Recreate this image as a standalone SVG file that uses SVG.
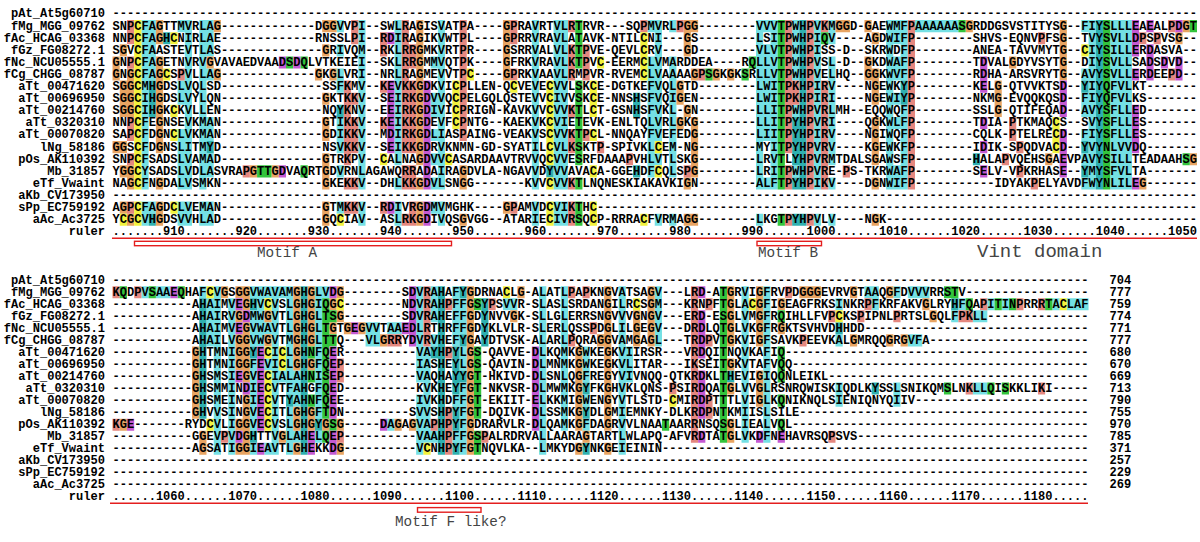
<svg xmlns="http://www.w3.org/2000/svg" width="1200" height="542" viewBox="0 0 1200 542">
<style>
.cy{fill:#74e0e4}.tl{fill:#2fb0b0}.or{fill:#e8a462}.rd{fill:#e4877f}.yl{fill:#f2f23c}.gr{fill:#33c43c}.mg{fill:#c459d2}
text.s{font-family:"Liberation Mono","DejaVu Sans Mono",monospace;font-weight:bold;font-size:12.05px;fill:#000}
text.n{font-family:"Liberation Mono","DejaVu Sans Mono",monospace;font-weight:bold;font-size:12.05px;fill:#000;text-anchor:end}
text.lbl{font-family:"Liberation Mono","DejaVu Sans Mono",monospace;font-size:14.3px;fill:#444}
.rl{stroke:#e41e1e;stroke-width:1.5;fill:none}
.bx{stroke:#e41e1e;stroke-width:1.4;fill:#fff}
</style>
<rect width="1200" height="542" fill="#fff"/>
<g id="colours-block1" transform="translate(112.5 8) scale(7.23 12.1)">
<path class="cy" d="M4 1h1v14h-1zM4 16h1v2h-1zM5 1h1v5h-1zM5 16h1v1h-1zM9 1h1v1h-1zM9 6h1v2h-1zM9 10h1v5h-1zM9 16h1v2h-1zM10 1h1v14h-1zM10 16h1v2h-1zM12 1h1v14h-1zM12 16h1v2h-1zM13 1h1v3h-1zM13 5h1v1h-1zM13 9h1v2h-1zM13 12h1v2h-1zM13 16h1v2h-1zM31 1h1v1h-1zM31 3h1v1h-1zM31 5h1v2h-1zM31 9h1v3h-1zM31 13h1v1h-1zM31 16h1v1h-1zM34 1h1v14h-1zM34 16h1v2h-1zM39 1h1v12h-1zM39 14h1v1h-1zM39 16h1v2h-1zM44 4h1v1h-1zM44 7h1v2h-1zM44 10h1v1h-1zM44 12h1v1h-1zM44 14h1v1h-1zM44 16h1v1h-1zM45 1h1v14h-1zM45 16h1v2h-1zM58 1h1v14h-1zM58 16h1v2h-1zM61 1h2v14h-2zM61 16h2v2h-2zM74 1h1v1h-1zM74 4h1v10h-1zM75 1h1v10h-1zM75 12h1v1h-1zM75 17h1v1h-1zM77 1h1v1h-1zM77 4h1v10h-1zM77 17h1v1h-1zM89 1h1v14h-1zM89 17h1v1h-1zM90 1h1v1h-1zM90 3h1v8h-1zM90 14h1v1h-1zM91 1h1v14h-1zM94 1h1v5h-1zM94 8h1v1h-1zM94 13h1v1h-1zM97 1h1v14h-1zM97 17h1v1h-1zM99 1h1v2h-1zM99 4h1v9h-1zM99 14h1v1h-1zM99 17h1v1h-1zM107 1h1v14h-1zM108 1h1v2h-1zM108 4h1v2h-1zM108 7h1v1h-1zM108 9h1v1h-1zM108 13h1v2h-1zM109 1h1v5h-1zM109 8h1v7h-1zM111 1h6v1h-6zM134 1h1v1h-1zM134 5h1v1h-1zM134 7h1v2h-1zM134 10h1v1h-1zM134 12h1v1h-1zM134 14h1v1h-1zM135 1h1v14h-1zM138 1h3v14h-3z"/>
<path class="tl" d="M5 6h1v3h-1zM5 17h1v1h-1zM7 2h1v1h-1zM13 11h1v1h-1zM31 8h1v1h-1zM60 13h1v1h-1zM72 7h1v2h-1zM72 13h1v1h-1zM94 9h1v4h-1zM94 14h1v1h-1zM94 17h1v1h-1zM95 1h1v14h-1zM95 17h1v1h-1zM109 6h1v2h-1zM119 12h1v1h-1zM134 6h1v1h-1zM134 11h1v1h-1zM134 13h1v1h-1zM136 1h1v14h-1z"/>
<path class="or" d="M0 4h1v2h-1zM0 11h1v1h-1zM1 3h1v1h-1zM1 6h1v3h-1zM1 11h1v1h-1zM1 13h1v1h-1zM1 16h1v1h-1zM2 5h1v4h-1zM2 13h1v2h-1zM2 17h1v1h-1zM6 1h1v2h-1zM6 4h1v8h-1zM6 14h1v1h-1zM6 16h1v2h-1zM13 4h1v1h-1zM14 1h1v1h-1zM14 5h1v1h-1zM19 13h1v1h-1zM22 13h1v1h-1zM28 5h1v1h-1zM29 1h1v1h-1zM29 3h1v1h-1zM29 7h1v1h-1zM29 9h1v2h-1zM29 12h1v3h-1zM29 16h1v2h-1zM30 1h1v1h-1zM30 5h1v1h-1zM42 1h1v12h-1zM42 14h1v1h-1zM42 16h1v2h-1zM48 13h1v2h-1zM48 17h1v1h-1zM54 1h1v5h-1zM54 16h1v1h-1zM78 6h1v2h-1zM78 9h1v1h-1zM79 1h1v3h-1zM79 8h1v1h-1zM79 14h1v1h-1zM79 17h1v1h-1zM80 1h1v1h-1zM80 5h1v1h-1zM80 9h1v5h-1zM80 17h1v1h-1zM83 5h1v1h-1zM85 5h1v1h-1zM100 1h2v1h-2zM104 1h1v1h-1zM104 4h1v2h-1zM105 2h1v1h-1zM105 5h1v3h-1zM105 9h1v4h-1zM105 14h1v1h-1zM105 17h1v1h-1zM118 1h1v1h-1zM122 6h1v3h-1zM124 4h1v1h-1zM129 12h1v1h-1zM131 1h1v5h-1zM142 14h1v1h-1zM147 2h1v1h-1zM148 1h1v1h-1zM149 12h1v1h-1z"/>
<path class="rd" d="M2 1h1v2h-1zM2 4h1v1h-1zM2 9h1v2h-1zM2 12h1v1h-1zM2 16h1v1h-1zM9 5h1v1h-1zM18 13h1v1h-1zM32 6h1v7h-1zM32 14h1v1h-1zM32 16h1v1h-1zM33 1h1v2h-1zM33 7h1v1h-1zM33 9h1v3h-1zM33 14h1v1h-1zM33 16h1v1h-1zM37 2h1v2h-1zM37 6h1v1h-1zM37 9h1v1h-1zM37 16h1v1h-1zM40 1h1v11h-1zM40 13h1v2h-1zM40 17h1v1h-1zM41 3h1v2h-1zM41 6h1v6h-1zM41 13h1v2h-1zM41 16h1v2h-1zM48 1h1v10h-1zM55 1h1v2h-1zM55 5h1v1h-1zM55 16h1v1h-1zM63 1h1v1h-1zM63 3h1v3h-1zM63 8h1v1h-1zM63 10h1v2h-1zM63 14h1v1h-1zM63 16h1v2h-1zM65 3h1v3h-1zM65 10h1v1h-1zM67 11h1v1h-1zM71 12h1v1h-1zM73 1h1v1h-1zM78 1h1v1h-1zM79 13h1v1h-1zM81 5h1v1h-1zM93 1h1v11h-1zM93 13h1v2h-1zM93 17h1v1h-1zM94 6h1v2h-1zM96 1h1v14h-1zM96 17h1v1h-1zM98 1h1v1h-1zM98 6h1v9h-1zM101 13h1v1h-1zM110 1h1v14h-1zM123 12h1v1h-1zM124 9h1v2h-1zM125 11h1v1h-1zM125 13h1v1h-1zM127 14h1v1h-1zM128 2h1v1h-1zM142 2h1v1h-1zM144 2h1v1h-1zM146 1h1v1h-1zM146 5h1v1h-1z"/>
<path class="yl" d="M3 1h1v14h-1zM3 16h1v2h-1zM1 17h1v1h-1zM7 5h1v1h-1zM8 2h1v1h-1zM8 8h1v1h-1zM8 10h1v1h-1zM8 16h1v1h-1zM31 17h1v1h-1zM37 12h1v1h-1zM46 12h1v1h-1zM47 6h1v4h-1zM49 5h1v1h-1zM55 6h1v1h-1zM60 6h1v7h-1zM60 14h1v1h-1zM60 16h1v2h-1zM66 6h1v3h-1zM66 10h1v1h-1zM66 13h1v1h-1zM66 16h1v2h-1zM67 4h1v1h-1zM73 2h1v4h-1zM73 17h1v1h-1zM75 11h1v1h-1zM75 13h1v1h-1zM130 9h1v3h-1zM134 3h1v1h-1z"/>
<path class="gr" d="M24 4h1v1h-1zM26 4h1v1h-1zM20 13h2v1h-2zM26 13h1v1h-1zM64 1h1v4h-1zM64 6h1v7h-1zM64 14h1v1h-1zM64 16h1v2h-1zM82 5h1v1h-1zM87 5h1v1h-1zM88 4h1v1h-1zM92 1h1v14h-1zM92 17h1v1h-1zM98 2h1v1h-1zM117 1h1v1h-1zM137 1h1v14h-1zM148 12h1v1h-1zM149 1h1v1h-1z"/>
<path class="mg" d="M23 4h1v1h-1zM25 4h1v1h-1zM23 13h1v1h-1zM38 2h1v1h-1zM38 6h1v6h-1zM38 16h1v1h-1zM43 6h1v9h-1zM43 16h1v2h-1zM120 4h1v3h-1zM120 9h1v1h-1zM120 11h1v1h-1zM120 13h1v1h-1zM131 6h1v3h-1zM131 10h1v4h-1zM141 1h1v3h-1zM141 5h1v1h-1zM141 8h1v4h-1zM141 14h1v1h-1zM143 1h1v1h-1zM143 3h1v3h-1zM145 4h1v1h-1zM147 1h1v1h-1zM147 4h1v2h-1z"/>
</g>
<g id="colours-block2" transform="translate(112.5 274.1) scale(7.23 12.05)">
<path class="cy" d="M4 1h1v1h-1zM6 1h2v1h-2zM12 1h1v1h-1zM13 2h1v4h-1zM14 1h1v14h-1zM16 2h1v13h-1zM19 1h1v1h-1zM19 3h1v3h-1zM19 7h1v6h-1zM19 14h1v1h-1zM20 1h1v5h-1zM21 1h1v1h-1zM21 4h1v1h-1zM21 7h1v1h-1zM21 14h1v1h-1zM22 1h1v14h-1zM23 1h1v1h-1zM23 8h1v1h-1zM24 1h1v9h-1zM24 11h1v4h-1zM25 8h1v3h-1zM25 13h1v1h-1zM28 1h1v11h-1zM28 13h1v1h-1zM29 1h1v1h-1zM35 4h2v2h-2zM38 4h2v1h-2zM38 12h1v1h-1zM42 1h1v8h-1zM42 10h1v5h-1zM43 6h1v8h-1zM44 1h1v3h-1zM44 5h1v1h-1zM44 13h1v1h-1zM47 1h1v5h-1zM47 10h1v1h-1zM47 13h1v1h-1zM48 2h1v3h-1zM48 6h1v2h-1zM48 9h1v6h-1zM54 2h2v1h-2zM59 1h1v14h-1zM62 1h1v12h-1zM65 6h1v3h-1zM65 10h1v1h-1zM65 12h1v1h-1zM70 1h1v14h-1zM71 6h1v3h-1zM75 1h1v5h-1zM87 1h1v13h-1zM90 1h1v13h-1zM100 2h1v1h-1zM100 5h1v1h-1zM100 9h1v2h-1zM104 1h2v1h-2zM105 2h1v1h-1zM108 1h1v1h-1zM108 9h1v2h-1zM110 1h3v1h-3zM110 5h2v1h-2zM116 3h1v1h-1zM117 2h1v1h-1zM119 3h2v1h-2zM119 9h2v1h-2zM121 2h1v1h-1zM123 2h1v1h-1zM130 2h1v1h-1zM132 2h3v1h-3z"/>
<path class="tl" d="M12 2h1v10h-1zM19 2h1v1h-1zM19 6h1v1h-1zM19 13h1v1h-1zM24 10h1v1h-1zM26 1h1v14h-1zM28 12h1v1h-1zM44 6h1v1h-1zM45 1h1v14h-1zM47 6h1v4h-1zM47 11h1v2h-1zM47 14h1v1h-1zM48 1h1v1h-1zM48 5h1v1h-1zM48 8h1v1h-1zM51 2h1v4h-1zM65 9h1v1h-1zM65 11h1v1h-1zM65 14h1v1h-1zM85 8h1v1h-1zM100 4h1v1h-1zM105 9h1v1h-1zM116 2h1v1h-1z"/>
<path class="or" d="M1 12h1v1h-1zM11 6h1v6h-1zM12 13h1v2h-1zM15 1h1v1h-1zM17 1h1v1h-1zM17 3h1v1h-1zM17 5h1v3h-1zM17 12h1v1h-1zM17 14h1v1h-1zM18 1h1v2h-1zM18 4h1v5h-1zM18 10h1v5h-1zM21 3h1v1h-1zM21 5h1v1h-1zM23 13h1v1h-1zM25 1h1v7h-1zM25 11h1v2h-1zM25 14h1v1h-1zM27 1h1v5h-1zM27 7h1v1h-1zM27 11h1v2h-1zM29 12h1v1h-1zM30 2h1v1h-1zM30 4h1v1h-1zM31 1h1v1h-1zM31 3h1v1h-1zM31 12h1v1h-1zM31 14h1v1h-1zM32 4h1v1h-1zM34 4h1v1h-1zM37 5h1v1h-1zM39 12h1v1h-1zM41 12h1v1h-1zM49 1h1v14h-1zM55 3h1v1h-1zM56 1h1v1h-1zM64 6h1v7h-1zM64 14h1v1h-1zM65 13h1v1h-1zM67 5h1v1h-1zM68 1h1v12h-1zM68 14h1v1h-1zM72 3h1v3h-1zM74 1h1v5h-1zM85 1h1v5h-1zM85 7h1v1h-1zM85 9h1v1h-1zM85 12h1v2h-1zM89 1h1v5h-1zM89 8h1v3h-1zM92 2h1v1h-1zM92 4h1v1h-1zM95 1h3v1h-3zM102 1h1v1h-1zM102 5h1v1h-1zM107 1h1v1h-1zM107 5h1v1h-1zM109 5h1v1h-1zM112 2h1v1h-1zM113 3h1v1h-1z"/>
<path class="rd" d="M0 1h1v1h-1zM0 12h1v1h-1zM3 1h1v1h-1zM15 13h1v1h-1zM31 7h1v2h-1zM31 13h1v1h-1zM38 5h2v1h-2zM43 1h1v5h-1zM44 12h1v1h-1zM46 2h1v1h-1zM46 6h1v1h-1zM46 11h1v4h-1zM51 13h1v1h-1zM52 2h1v1h-1zM63 1h1v1h-1zM63 5h1v1h-1zM65 1h1v1h-1zM66 4h1v1h-1zM77 9h1v1h-1zM80 1h1v13h-1zM82 2h1v1h-1zM82 5h1v1h-1zM82 10h1v2h-1zM93 1h1v1h-1zM95 5h1v1h-1zM99 3h1v1h-1zM99 13h1v1h-1zM103 3h1v1h-1zM104 2h1v1h-1zM108 3h1v1h-1zM117 3h2v1h-2zM118 9h1v1h-1zM120 2h1v1h-1zM125 2h1v1h-1zM128 2h1v1h-1zM128 9h1v1h-1z"/>
<path class="yl" d="M13 1h1v1h-1zM13 12h1v1h-1zM21 2h1v1h-1zM21 6h1v1h-1zM21 8h1v5h-1zM23 6h1v2h-1zM31 2h1v1h-1zM43 14h1v1h-1zM54 1h1v1h-1zM72 2h1v1h-1zM88 2h1v1h-1zM77 10h1v1h-1zM100 3h1v1h-1zM131 2h1v1h-1z"/>
<path class="gr" d="M1 1h1v1h-1zM5 1h1v1h-1zM9 1h1v1h-1zM29 2h1v10h-1zM29 13h1v1h-1zM30 3h1v1h-1zM30 5h1v1h-1zM30 12h1v1h-1zM27 6h1v1h-1zM27 8h1v1h-1zM27 10h1v1h-1zM50 2h1v1h-1zM50 6h1v6h-1zM50 13h1v2h-1zM76 12h1v1h-1zM84 1h1v13h-1zM92 3h1v1h-1zM92 6h1v3h-1zM92 10h1v1h-1zM92 12h1v1h-1zM115 1h2v1h-2zM118 2h1v1h-1zM122 2h1v1h-1zM124 2h1v1h-1zM129 2h1v1h-1zM115 9h1v1h-1zM121 9h1v1h-1zM123 9h1v1h-1z"/>
<path class="mg" d="M2 12h1v1h-1zM8 1h1v1h-1zM17 2h1v1h-1zM17 4h1v1h-1zM17 8h1v1h-1zM17 13h1v1h-1zM18 3h1v1h-1zM18 9h1v1h-1zM20 6h1v7h-1zM20 14h1v1h-1zM27 13h1v2h-1zM30 1h1v1h-1zM30 6h1v6h-1zM30 13h1v2h-1zM33 4h1v1h-1zM37 12h1v1h-1zM40 4h1v1h-1zM41 1h1v5h-1zM58 6h1v7h-1zM81 1h1v1h-1zM81 3h1v4h-1zM81 8h1v4h-1zM81 13h1v1h-1zM89 13h1v1h-1zM92 13h1v1h-1z"/>
</g>
<g id="names-block1">
<text class="n" x="105" y="17.4">pAt_At5g60710</text>
<text class="n" x="105" y="29.5">fMg_MGG_09762</text>
<text class="n" x="105" y="41.6">fAc_HCAG_03368</text>
<text class="n" x="105" y="53.7">fGz_FG08272.1</text>
<text class="n" x="105" y="65.8">fNc_NCU05555.1</text>
<text class="n" x="105" y="77.9">fCg_CHGG_08787</text>
<text class="n" x="105" y="90">aTt_00471620</text>
<text class="n" x="105" y="102.1">aTt_00696950</text>
<text class="n" x="105" y="114.2">aTt_00214760</text>
<text class="n" x="105" y="126.3">aTt_0320310</text>
<text class="n" x="105" y="138.4">aTt_00070820</text>
<text class="n" x="105" y="150.5">lNg_58186</text>
<text class="n" x="105" y="162.6">pOs_AK110392</text>
<text class="n" x="105" y="174.7">Mb_31857</text>
<text class="n" x="105" y="186.8">eTf_Vwaint</text>
<text class="n" x="105" y="198.9">aKb_CV173950</text>
<text class="n" x="105" y="211">sPp_EC759192</text>
<text class="n" x="105" y="223.1">aAc_Ac3725</text>
<text class="n" x="105" y="235.2">ruler</text>
</g>
<g id="sequences-block1">
<text class="s" x="112.5" y="17.4" textLength="1084.5" lengthAdjust="spacing">------------------------------------------------------------------------------------------------------------------------------------------------------</text>
<text class="s" x="112.5" y="29.5" textLength="1084.5" lengthAdjust="spacing">SNPCFAGTTMVRLAG-------------DGGVVPI--SWLRAGISVATPA----GPRAVRTVLRTRVR---SQPMVRLPGG--------VVVTPWHPVKMGGD-GAEWMFPAAAAAASGRDDGSVSTITYSG--FIYSLLLEAEALPDGT</text>
<text class="s" x="112.5" y="41.6" textLength="1084.5" lengthAdjust="spacing">NNPCFAGHCNIRLAE-------------RNSSLPI--RDIRAGIKVWTPL----GPRRVRAVLATAVK-NTILCNI---GS--------LSITPWHPIQV----AGDWIFP--------SHVS-EQNVPFSG--TVYSVLLDPSPVSG--</text>
<text class="s" x="112.5" y="53.7" textLength="1084.5" lengthAdjust="spacing">SGVCFAASTEVTLAS--------------GRIVQM--RKLRRGMKVRTPR----GSRRVALVLKTPVE-QEVLCRV---GD--------VLVTPWHPISS-D--SKRWDFP--------ANEA-TAVVMYTG--CIYSILLERDASVA--</text>
<text class="s" x="112.5" y="65.8" textLength="1084.5" lengthAdjust="spacing">GNPCFAGETNVRVGVAVAEDVAADSDQLVTKEIEI--SKLRRGMMVQTPK----GFRKVRAVLKTPVC-EERMCLVMARDDEA----RQLLVTPWHPVSL-D--GKDWAFP--------TDVALGDYVSYTG--DIYSVLLSADSDVD--</text>
<text class="s" x="112.5" y="77.9" textLength="1084.5" lengthAdjust="spacing">GNGCFAGCSPVLLAG-------------GKGLVRI--NRLRAGMEVVTPC----GPRKVAAVLRMPVR-RVEMCLVAAAAGPSGKGKSRLLVTPWHPVELHQ--GGKWVFP--------RDHA-ARSVRYTG--AVYSVLLERDEEPD--</text>
<text class="s" x="112.5" y="90" textLength="1084.5" lengthAdjust="spacing">SGGCMHGDSLVQLSD--------------SSFKMV--KEVKKGDKVICPLLEN-QCVEVECVVLSKCE-DGTKEFVQLGTD--------LWITPKHPIRV----NGEWKYP--------KELG-QTVVKTSD--YIYQFVLKT-------</text>
<text class="s" x="112.5" y="102.1" textLength="1084.5" lengthAdjust="spacing">SGGCIHGDSLVYLQN--------------GKTKKV--SEIRKGDVVQCPELGQLQSTEVVCIVVSKCE-NNSHSFVQIGEN--------LWITPKHPIRI----NGEWIYP--------NKMG-EVQQKQSD--FIYQFVLKS-------</text>
<text class="s" x="112.5" y="114.2" textLength="1084.5" lengthAdjust="spacing">SGGCIHGKCKVLLEN--------------NQYKNV--EEIRKGDIVICPRIGN-KAVKVVCVVKTLCT-GSNHSFVKL-GN--------LLITPWHPVRLMH--EQQWQFP--------SSLG-QTIFEQAD--AVYSFLLED-------</text>
<text class="s" x="112.5" y="126.3" textLength="1084.5" lengthAdjust="spacing">NNPCFEGNSEVKMAN--------------GTIKKV--KEIKKGDEVFCPNTG--KAEKVKCVIETEVK-ENLTQLVRLGKG--------LLITPYHPVRI----QGKWLFP--------TDIA-PTKMAQCS--SVYSFLLES-------</text>
<text class="s" x="112.5" y="138.4" textLength="1084.5" lengthAdjust="spacing">SAPCFDGNCLVKMAN--------------GDIKKV--MDIRKGDLIASPAING-VEAKVSCVVKTPCL-NNQAYFVEFEDG--------LIITPYHPIRV----NGIWQFP--------CQLK-PTELRECD--FIYSFLLES-------</text>
<text class="s" x="112.5" y="150.5" textLength="1084.5" lengthAdjust="spacing">GGSCFDGNSLITMYD--------------NSVKKV--SEIKKGDRVKNMN-GD-SYATILCVLKSKTP-SPIVKLCEM-NG--------MYITPYHPVRV----KGEWKFP--------IDIK-SPQDVACD--YVYNLVVDQ-------</text>
<text class="s" x="112.5" y="162.6" textLength="1084.5" lengthAdjust="spacing">SNPCFSADSLVAMAD--------------GTRKPV--CALNAGDVVCASARDAAVTRVVQCVVESRFDAAAPVHLVTLSKG--------LRVTLYHPVRMTDALSGAWSFP--------HALAPVQEHSGAEVPAVYSILLTEADAAHSG</text>
<text class="s" x="112.5" y="174.7" textLength="1084.5" lengthAdjust="spacing">YGGCYSADSLVDLASVRAPGTTGDVAQRTGDVRNLAGAWQRRADAIRAGDVLA-NGAVVDYVVAVACA-GGEHDFCQLSPG--------LRITPWHPVRE-PS-TKRWAFP--------SELV-VPKRHASE--YMYSFVLTA-------</text>
<text class="s" x="112.5" y="186.8" textLength="1084.5" lengthAdjust="spacing">NAGCFNGDALVSMKN--------------GKEKKV--DHLKKGDVLSNGG-------KVVCVVKTLNQNESKIAKAVKIGN--------ALFTPYHPIKV----DGNWIFP-----------IDYAKPELYAVDFWYNLILEG-------</text>
<text class="s" x="112.5" y="198.9" textLength="1084.5" lengthAdjust="spacing">------------------------------------------------------------------------------------------------------------------------------------------------------</text>
<text class="s" x="112.5" y="211" textLength="1084.5" lengthAdjust="spacing">AGPCFAGDCLVEMAN--------------GTMKKV--RDIVRGDMVMGHK----GPAMVDCVIKTHC-----------------------------------------------------------------------------------</text>
<text class="s" x="112.5" y="223.1" textLength="1084.5" lengthAdjust="spacing">YCGCVHGDSVVHLAD--------------GQCIAV--ASLRKGDIVQSGVGG--ATARIECIVRSQCP-RRRACFVRMAGG--------LKGTPYHPVLV----NGK-------------------------------------------</text>
<text class="s" x="112.5" y="235.2" textLength="1084.5" lengthAdjust="spacing">.......910.......920.......930.......940.......950.......960.......970.......980.......990......1000......1010......1020......1030......1040......1050</text>
</g>
<g id="annotations-block1">
<line class="rl" x1="112" y1="238.3" x2="1197" y2="238.3"/>
<rect id="motif-a-box" class="bx" x="134.5" y="241.3" width="317" height="4.4"/>
<rect id="motif-b-box" class="bx" x="757" y="241.3" width="64.5" height="4.4"/>
<text class="lbl" x="257" y="257">Motif A</text>
<text class="lbl" x="758" y="257">Motif B</text>
<text class="lbl" x="977" y="256.5" style="font-size:19px">Vint domain</text>
</g>
<g id="names-block2">
<text class="n" x="105" y="283.5">pAt_At5g60710</text>
<text class="n" x="105" y="295.55">fMg_MGG_09762</text>
<text class="n" x="105" y="307.6">fAc_HCAG_03368</text>
<text class="n" x="105" y="319.65">fGz_FG08272.1</text>
<text class="n" x="105" y="331.7">fNc_NCU05555.1</text>
<text class="n" x="105" y="343.75">fCg_CHGG_08787</text>
<text class="n" x="105" y="355.8">aTt_00471620</text>
<text class="n" x="105" y="367.85">aTt_00696950</text>
<text class="n" x="105" y="379.9">aTt_00214760</text>
<text class="n" x="105" y="391.95">aTt_0320310</text>
<text class="n" x="105" y="404">aTt_00070820</text>
<text class="n" x="105" y="416.05">lNg_58186</text>
<text class="n" x="105" y="428.1">pOs_AK110392</text>
<text class="n" x="105" y="440.15">Mb_31857</text>
<text class="n" x="105" y="452.2">eTf_Vwaint</text>
<text class="n" x="105" y="464.25">aKb_CV173950</text>
<text class="n" x="105" y="476.3">sPp_EC759192</text>
<text class="n" x="105" y="488.35">aAc_Ac3725</text>
<text class="n" x="105" y="500.4">ruler</text>
</g>
<g id="sequences-block2">
<text class="s" x="112.5" y="283.5" textLength="976.05" lengthAdjust="spacing">---------------------------------------------------------------------------------------------------------------------------------------</text>
<text class="s" x="112.5" y="295.55" textLength="976.05" lengthAdjust="spacing">KQDPVSAAEQHAFCVGSGGVWAVAMGHGLVDG--------SDVRAHAFYGDRNACLG-ALATLPAPKNGVATSAGV---LRD-ATGRVIGFRVPDGGGEVRVGTAAQGFDVVVRRSTV-----------------</text>
<text class="s" x="112.5" y="307.6" textLength="976.05" lengthAdjust="spacing">-----------AHAIMVEGHVCVSLGHGIQGC--------NDVRAHPFFGSYPSVVR-SLASLSRDANGILRCSGM---KRNPFTGLACGFIGEAGFRKSINKRPFKRFAKVGLRYHFQAPITINPRRRTACLAF</text>
<text class="s" x="112.5" y="319.65" textLength="976.05" lengthAdjust="spacing">-----------AHAIRVGDMWGVTLGHGLTSG--------SDVRAHEFFGDYNVVGK-SLLGLERRSNGVVVGNGV---ERD-ESGLVMGFRQIHLLFVPCKSPIPNLPRTSLGQLFPKLL--------------</text>
<text class="s" x="112.5" y="331.7" textLength="976.05" lengthAdjust="spacing">-----------AHAIMVEGVWAVTLGHGLTGTGEGVVTAAEDLRTHRFFGDYKLVLR-SLERLQSSPDGLILGEGV---DRDLQTGLVKGFRGKTSVHVDHHDD-------------------------------</text>
<text class="s" x="112.5" y="343.75" textLength="976.05" lengthAdjust="spacing">-----------AHAILVGGVWGVTMGHGLTTQ---VLGRRYDVRVHEFYGAYDTVSK-ALARLPQRAGGVAMGAGL---TRDPVTGKVIGFSAVKPEEVKALGMRQQGRGVFA----------------------</text>
<text class="s" x="112.5" y="355.8" textLength="976.05" lengthAdjust="spacing">-----------GHTMNIGGYECICLGHNFQER----------VAYHPYLGS-QAVVE-DLKQMKGWKEGKVIIRSR---VRDQITNQVKAFIQ------------------------------------------</text>
<text class="s" x="112.5" y="367.85" textLength="976.05" lengthAdjust="spacing">-----------GHTMNIGGFEVICLGHGFQEP----------IASHEYLGS-QAVIN-DLMNMKGWKEGKVLITAR---IKSEITGKVTAFVQQ-----------------------------------------</text>
<text class="s" x="112.5" y="379.9" textLength="976.05" lengthAdjust="spacing">-----------GHSMSIEGVECIALAHNISEP----------VAQHAYYGT-HKIVD-DLSNLQGFREGYVIVNQQ-QTKRDKLTHEVIGIQQNLEIKL------------------------------------</text>
<text class="s" x="112.5" y="391.95" textLength="976.05" lengthAdjust="spacing">-----------GHSMMINDIECVTFAHGFQED----------KVKHEYFGT-NKVSR-DLMWMKGYFKGHVKLQNS-PSIRDQATGLVVGLRSNRQWISKIQDLKYSSLSNIKQMSLNKLLQISKKLIKI-----</text>
<text class="s" x="112.5" y="404" textLength="976.05" lengthAdjust="spacing">-----------GHSMEINGIECVTYAHNFQEE----------IVKHDFFGT-EKIIT-ELKKMIGWENGYVTLSTD-CMIRDPTTTLVIGLKQNIKNQLSIENIQNYQIIV------------------------</text>
<text class="s" x="112.5" y="416.05" textLength="976.05" lengthAdjust="spacing">-----------GHVVSINGVECITLGHGFTDN---------SVVSHPYFGT-DQIVK-DLSSMKGYDLGMIEMNKY-DLKRDPNTKMIISLSILE----------------------------------------</text>
<text class="s" x="112.5" y="428.1" textLength="976.05" lengthAdjust="spacing">KGE-------RYDCVLIGGVECVSLGHGYGSG-----DAGAGVAPHPYFGDRARVLR-DLQAMKGFDAGRVVLNAATAARRNSQSGLIEALVQL-----------------------------------------</text>
<text class="s" x="112.5" y="440.15" textLength="976.05" lengthAdjust="spacing">-----------GGEVPVDGHTTVGLAHELQEP----------VAAHPFFGSPALRDRVALLAARAGTARTLWLAPQ-AFVRDTATGLVKDFNEHAVRSQPSVS--------------------------------</text>
<text class="s" x="112.5" y="452.2" textLength="976.05" lengthAdjust="spacing">-----------AGSATIGGIEAVTLGHEKKDG----------VCNHPYFGTNQVLKA--LMKYDGYNKGEIEININ-----------------------------------------------------------</text>
<text class="s" x="112.5" y="464.25" textLength="976.05" lengthAdjust="spacing">---------------------------------------------------------------------------------------------------------------------------------------</text>
<text class="s" x="112.5" y="476.3" textLength="976.05" lengthAdjust="spacing">---------------------------------------------------------------------------------------------------------------------------------------</text>
<text class="s" x="112.5" y="488.35" textLength="976.05" lengthAdjust="spacing">---------------------------------------------------------------------------------------------------------------------------------------</text>
<text class="s" x="112.5" y="500.4" textLength="976.05" lengthAdjust="spacing">......1060......1070......1080......1090......1100......1110......1120......1130......1140......1150......1160......1170......1180.....</text>
</g>
<g id="lengths-block2">
<text class="s" x="1109.5" y="283.5">704</text>
<text class="s" x="1109.5" y="295.55">777</text>
<text class="s" x="1109.5" y="307.6">759</text>
<text class="s" x="1109.5" y="319.65">774</text>
<text class="s" x="1109.5" y="331.7">771</text>
<text class="s" x="1109.5" y="343.75">777</text>
<text class="s" x="1109.5" y="355.8">680</text>
<text class="s" x="1109.5" y="367.85">670</text>
<text class="s" x="1109.5" y="379.9">669</text>
<text class="s" x="1109.5" y="391.95">713</text>
<text class="s" x="1109.5" y="404">790</text>
<text class="s" x="1109.5" y="416.05">755</text>
<text class="s" x="1109.5" y="428.1">970</text>
<text class="s" x="1109.5" y="440.15">785</text>
<text class="s" x="1109.5" y="452.2">371</text>
<text class="s" x="1109.5" y="464.25">257</text>
<text class="s" x="1109.5" y="476.3">229</text>
<text class="s" x="1109.5" y="488.35">269</text>
</g>
<g id="annotations-block2">
<line class="rl" x1="110" y1="503.3" x2="1088" y2="503.3"/>
<rect id="motif-f-box" class="bx" x="417.5" y="507.6" width="63.5" height="4.6"/>
<text class="lbl" x="395" y="526">Motif F like?</text>
</g>
</svg>
